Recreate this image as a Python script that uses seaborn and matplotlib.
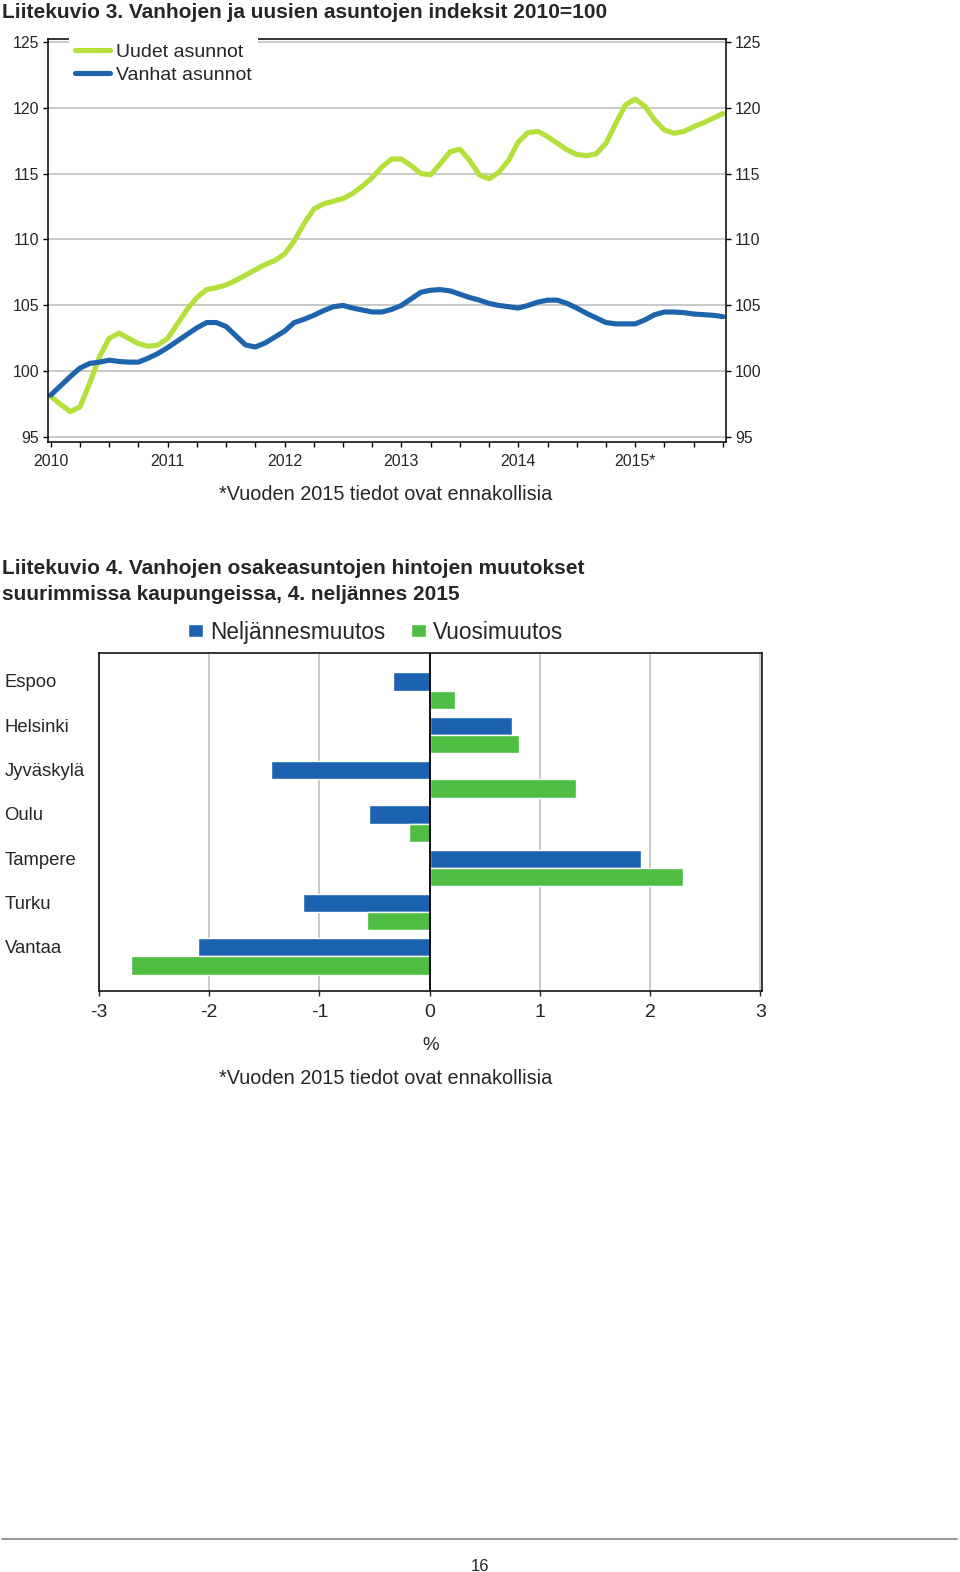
import numpy as np
import pandas as pd
import matplotlib
matplotlib.use('Agg')
from matplotlib import pyplot as plt
from matplotlib.lines import Line2D
from matplotlib.ticker import MultipleLocator
import seaborn as sb

sb.set_style('white')
plt.rcParams['font.family'] = ['Liberation Sans', 'DejaVu Sans']
plt.rcParams['axes.unicode_minus'] = False

# Liitekuvio 3: monthly readings, 2010-01 .. 2015-10 (2010=100)
kuukausi = np.arange(70)
uudet = [98.1, 97.5, 96.95, 97.3, 99.1, 101.1, 102.5, 102.9, 102.5, 102.1,
         101.9, 102.0, 102.5, 103.6, 104.7, 105.6, 106.2, 106.35, 106.55, 106.9,
         107.3, 107.7, 108.1, 108.4, 108.9, 109.9, 111.2, 112.3, 112.7, 112.9,
         113.1, 113.5, 114.05, 114.7, 115.5, 116.1, 116.1, 115.6, 115.0, 114.9,
         115.75, 116.65, 116.85, 116.0, 114.9, 114.6, 115.1, 116.0, 117.4, 118.1,
         118.2, 117.8, 117.3, 116.8, 116.45, 116.35, 116.5, 117.3, 118.8, 120.2,
         120.65, 120.1, 119.05, 118.3, 118.05, 118.2, 118.55, 118.85, 119.2, 119.55]
vanhat = [98.2, 98.9, 99.6, 100.25, 100.6, 100.7, 100.85, 100.75, 100.7, 100.7,
          101.0, 101.35, 101.8, 102.3, 102.8, 103.3, 103.7, 103.7, 103.4, 102.7,
          102.0, 101.85, 102.15, 102.6, 103.05, 103.7, 103.95, 104.25, 104.6, 104.9,
          105.0, 104.8, 104.65, 104.5, 104.5, 104.7, 105.0, 105.5, 106.0, 106.15,
          106.2, 106.1, 105.85, 105.6, 105.4, 105.15, 105.0, 104.9, 104.8, 105.0,
          105.25, 105.4, 105.4, 105.15, 104.8, 104.4, 104.05, 103.7, 103.6, 103.6,
          103.6, 103.9, 104.3, 104.5, 104.5, 104.45, 104.35, 104.3, 104.25, 104.15]
vuodet = [2010, 2011, 2012, 2013, 2014, 2015]
vuosi_labels = ['2010', '2011', '2012', '2013', '2014', '2015*']

# Liitekuvio 4: quarterly and annual change, %
kaupungit = ['Espoo', 'Helsinki', 'Jyväskylä', 'Oulu', 'Tampere', 'Turku', 'Vantaa']
neljannes = [-0.33, 0.75, -1.44, -0.55, 1.92, -1.15, -2.10]
vuosimuutos = [0.23, 0.81, 1.33, -0.19, 2.30, -0.57, -2.71]

W, H = 960, 1572
fig = plt.figure(figsize=(W / 100, H / 100), dpi=100)


def px(x, y):
    return x / W, 1 - y / H


def axrect(l, t, r, b):
    return [l / W, 1 - b / H, (r - l) / W, (b - t) / H]


# ---- chart 1
df1 = pd.DataFrame({
    'aika': np.concatenate([2010 + kuukausi / 12, 2010 + kuukausi / 12]),
    'indeksi': uudet + vanhat,
    'sarja': ['Uudet asunnot'] * len(uudet) + ['Vanhat asunnot'] * len(vanhat),
})
ax1 = fig.add_axes(axrect(48.3, 39.3, 725.7, 442.3))
sb.lineplot(data=df1, x='aika', y='indeksi', hue='sarja',
            palette=['#b5e03c', '#1e64ac'], linewidth=3.7, ax=ax1)
ax1.set_xlim(2009.979, 2015.774)
ax1.set_ylim(94.62, 125.18)
ax1.set_xlabel('')
ax1.set_ylabel('')
ax1.set_yticks(range(95, 126, 5))
ax1.set_xticks(vuodet)
ax1.set_xticklabels(vuosi_labels)
ax1.xaxis.set_minor_locator(MultipleLocator(0.25))
ax1.grid(axis='y', color='#c0c0c0', lw=1.2)
ax1.tick_params(axis='both', which='both', direction='out', length=3.6, width=1,
                color='black', labelsize=11.4, pad=3)
ax1.tick_params(axis='x', which='both', bottom=True, pad=5)
ax1.tick_params(axis='y', left=True, right=True, labelleft=True, labelright=True)
for s in ax1.spines.values():
    s.set_color('black')
    s.set_linewidth(1.1)
h, l = ax1.get_legend_handles_labels()
ax1.legend(h, l, loc='upper left', bbox_to_anchor=(0.031, 1.004), borderaxespad=0,
           borderpad=0.3, handlelength=1.8, handletextpad=0.3, labelspacing=0.25,
           fontsize=14, frameon=True, edgecolor='none', facecolor='white',
           framealpha=1, fancybox=False)

fig.text(*px(2, 13), 'Liitekuvio 3. Vanhojen ja uusien asuntojen indeksit 2010=100',
         fontsize=15, fontweight='bold', va='center', ha='left')
fig.text(*px(386, 494), '*Vuoden 2015 tiedot ovat ennakollisia', fontsize=14.3,
         ha='center', va='center')

# ---- chart 2
df2 = pd.DataFrame({
    'kaupunki': kaupungit * 2,
    'muutos': neljannes + vuosimuutos,
    'sarja': ['Neljännesmuutos'] * len(kaupungit) + ['Vuosimuutos'] * len(kaupungit),
})
ax2 = fig.add_axes(axrect(99, 653.3, 762, 991))
sb.barplot(data=df2, y='kaupunki', x='muutos', hue='sarja', orient='h',
           palette=['#1b63b0', '#4fbd42'], width=0.826, saturation=1,
           errorbar=None, ax=ax2, zorder=3)
ax2.set_xlim(-3, 3.015)
ax2.set_ylim(6.779, -0.844)
ax2.set_xticks(range(-3, 4))
ax2.grid(axis='x', color='#c0c0c0', lw=1.2, zorder=0)
ax2.set_axisbelow(True)
ax2.axvline(0, color='black', lw=1.3, zorder=4)
ax2.set_yticks([i - 0.22 for i in range(len(kaupungit))])
ax2.set_yticklabels(kaupungit, ha='left', fontsize=13.3)
ax2.tick_params(axis='y', length=0, pad=68)
ax2.tick_params(axis='x', direction='out', length=3.6, width=1, labelsize=14, pad=5.5,
                bottom=True)
ax2.set_ylabel('')
ax2.set_xlabel('%', fontsize=13.5, labelpad=12)
for s in ax2.spines.values():
    s.set_color('black')
    s.set_linewidth(1.1)
h, l = ax2.get_legend_handles_labels()
ax2.legend(h, l, loc='center', bbox_to_anchor=(0.417, 1.063), ncol=2,
           borderaxespad=0, frameon=False, fontsize=16.3, handlelength=0.65,
           handleheight=0.45, handletextpad=0.3, columnspacing=1.15)

fig.text(*px(2, 569), 'Liitekuvio 4. Vanhojen osakeasuntojen hintojen muutokset',
         fontsize=15, fontweight='bold', va='center', ha='left')
fig.text(*px(2, 594), 'suurimmissa kaupungeissa, 4. neljännes 2015',
         fontsize=15, fontweight='bold', va='center', ha='left')
fig.text(*px(386, 1078), '*Vuoden 2015 tiedot ovat ennakollisia', fontsize=14.3,
         ha='center', va='center')

# page footer
fig.add_artist(Line2D([2 / W, 957 / W], [1 - 1539 / H, 1 - 1539 / H],
                      color='#8c8c8c', lw=1.3))
fig.text(*px(480, 1571), '16', fontsize=12, ha='center', va='baseline')

fig.savefig('out.png', dpi=100)
